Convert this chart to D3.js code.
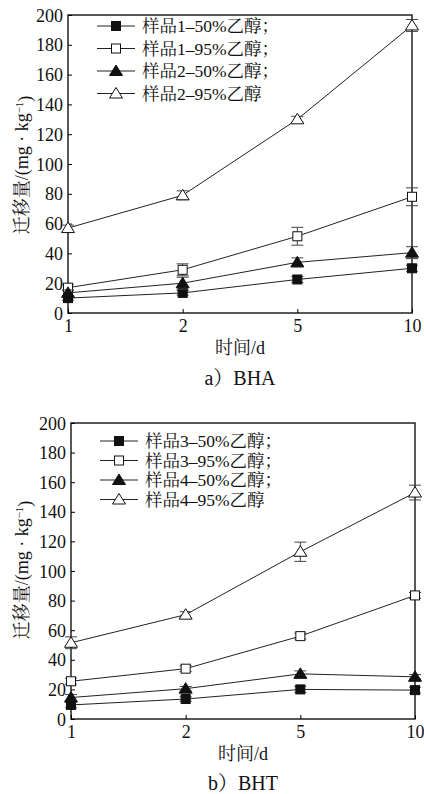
<!DOCTYPE html>
<html>
<head>
<meta charset="utf-8">
<script src="https://cdn.jsdelivr.net/npm/d3@7"></script>
<style>
body { margin: 0; background: #fff; }
#chart text { font-family: "Liberation Serif", "Noto Serif CJK SC", "Noto Sans CJK SC", serif !important; fill: #111; }
</style>
</head>
<body>
<div id="chart"></div>
<script>
var days = ["1", "2", "5", "10"];
var yTicks = [0, 20, 40, 60, 80, 100, 120, 140, 160, 180, 200];

// a) BHA
var bhaNames = ["样品1–50%乙醇；", "样品1–95%乙醇；", "样品2–50%乙醇；", "样品2–95%乙醇"];
var bhaS1_50 = [10, 13.5, 22.5, 30];
var bhaS1_50err = [1.5, 1.5, 2, 2];
var bhaS1_95 = [17, 29, 51.5, 78];
var bhaS1_95err = [2, 4, 6, 6];
var bhaS2_50 = [13.5, 20, 34, 40.5];
var bhaS2_50err = [2, 4, 3, 4];
var bhaS2_95 = [57, 79, 130, 193];
var bhaS2_95err = [2, 3, 2, 4];

// b) BHT
var bhtNames = ["样品3–50%乙醇；", "样品3–95%乙醇；", "样品4–50%乙醇；", "样品4–95%乙醇"];
var bhtS3_50 = [9.5, 13.5, 20, 19.5];
var bhtS3_50err = [2, 1.5, 2, 2];
var bhtS3_95 = [25.5, 34, 56, 83.5];
var bhtS3_95err = [2, 2, 2, 2];
var bhtS4_50 = [14.5, 20.5, 30.5, 28.5];
var bhtS4_50err = [2, 1.5, 2, 1.5];
var bhtS4_95 = [51.5, 70.5, 113, 153];
var bhtS4_95err = [4, 2, 6.5, 5];

var markers = ["fsq", "osq", "ftri", "otri"];

var svg = d3.select("#chart").append("svg")
    .attr("width", 424).attr("height", 794);

function marker(g, type, x, y) {
    if (type == "fsq" || type == "osq") {
        g.append("rect")
            .attr("x", x - 4.5).attr("y", y - 4.5)
            .attr("width", 9).attr("height", 9)
            .style("fill", type == "fsq" ? "#111" : "#fff")
            .style("stroke", "#111").style("stroke-width", 1);
    } else {
        g.append("path")
            .attr("d", "M" + x + "," + (y - 6) + "L" + (x + 6.5) + "," + (y + 4.5) + "L" + (x - 6.5) + "," + (y + 4.5) + "Z")
            .style("fill", type == "ftri" ? "#111" : "#fff")
            .style("stroke", "#111").style("stroke-width", 1);
    }
}

function drawPanel(p) {
    var x = d3.scalePoint().domain(days).range([p.left, p.right]);
    var y = d3.scaleLinear().domain([0, 200]).range([p.bottom, p.top]);
    var g = svg.append("g");

    // frame
    g.append("rect")
        .attr("x", p.left).attr("y", p.top)
        .attr("width", p.right - p.left).attr("height", p.bottom - p.top)
        .style("fill", "none").style("stroke", "#222").style("stroke-width", 1.5);

    var yAxis = d3.axisLeft(y).tickValues(yTicks).tickSizeInner(-4).tickSizeOuter(0).tickPadding(5);
    var ya = g.append("g").attr("transform", "translate(" + p.left + ",0)").call(yAxis);
    ya.select(".domain").remove();
    ya.selectAll("text").style("font-size", "18px").attr("dy", "0.34em");

    var xAxis = d3.axisBottom(x).tickSizeInner(-4).tickSizeOuter(0).tickPadding(6);
    var xa = g.append("g").attr("transform", "translate(0," + p.bottom + ")").call(xAxis);
    xa.select(".domain").remove();
    xa.selectAll("text").style("font-size", "18px");

    g.append("text")
        .attr("x", (p.left + p.right) / 2).attr("y", p.bottom + 41)
        .attr("text-anchor", "middle").style("font-size", "18px")
        .text("时间/d");

    var yl = g.append("text")
        .attr("transform", "translate(" + p.ylabX + "," + p.ylabY + ") rotate(-90)")
        .attr("text-anchor", "middle").attr("dy", "0.35em").style("font-size", "18px");
    yl.append("tspan").text("迁移量/(mg · kg");
    yl.append("tspan").attr("dy", "-0.45em").style("font-size", "11px").text("−1");
    yl.append("tspan").attr("dy", "0.45em").text(")");

    g.append("text")
        .attr("x", (p.left + p.right) / 2).attr("y", p.captionY)
        .attr("text-anchor", "middle").style("font-size", "20px")
        .text(p.caption);

    var line = d3.line()
        .x(function(d, i) { return x(days[i]); })
        .y(function(d) { return y(d); });

    p.series.forEach(function(s, k) {
        g.append("path").datum(s.values).attr("d", line)
            .style("fill", "none").style("stroke", "#222").style("stroke-width", 1);
        s.values.forEach(function(v, i) {
            var cx = x(days[i]);
            var e = s.err[i];
            g.append("line").attr("x1", cx).attr("x2", cx)
                .attr("y1", y(v - e)).attr("y2", y(v + e))
                .style("stroke", "#444").style("stroke-width", 1);
            [v - e, v + e].forEach(function(c) {
                g.append("line").attr("x1", cx - 6).attr("x2", cx + 6)
                    .attr("y1", y(c)).attr("y2", y(c))
                    .style("stroke", "#444").style("stroke-width", 1);
            });
        });
        s.values.forEach(function(v, i) {
            marker(g, markers[k], x(days[i]), y(v));
        });
    });

    // legend
    p.names.forEach(function(n, k) {
        var ly = p.legY + k * p.legStep;
        g.append("line").attr("x1", p.legX).attr("x2", p.legX + 38)
            .attr("y1", ly).attr("y2", ly)
            .style("stroke", "#222").style("stroke-width", 1);
        marker(g, markers[k], p.legX + 19, ly);
        g.append("text").attr("x", p.legX + 45).attr("y", ly)
            .attr("dy", "0.36em").style("font-size", "17.5px").text(n);
    });
}

drawPanel({
    left: 68, right: 412, top: 15, bottom: 313,
    ylabX: 22, ylabY: 165, captionY: 385, caption: "a）BHA",
    legX: 97, legY: 26, legStep: 22.5, names: bhaNames,
    series: [
        {values: bhaS1_50, err: bhaS1_50err},
        {values: bhaS1_95, err: bhaS1_95err},
        {values: bhaS2_50, err: bhaS2_50err},
        {values: bhaS2_95, err: bhaS2_95err}
    ]
});

drawPanel({
    left: 71, right: 415, top: 423, bottom: 719,
    ylabX: 22, ylabY: 570, captionY: 790, caption: "b）BHT",
    legX: 100, legY: 441, legStep: 19.5, names: bhtNames,
    series: [
        {values: bhtS3_50, err: bhtS3_50err},
        {values: bhtS3_95, err: bhtS3_95err},
        {values: bhtS4_50, err: bhtS4_50err},
        {values: bhtS4_95, err: bhtS4_95err}
    ]
});
</script>
</body>
</html>
